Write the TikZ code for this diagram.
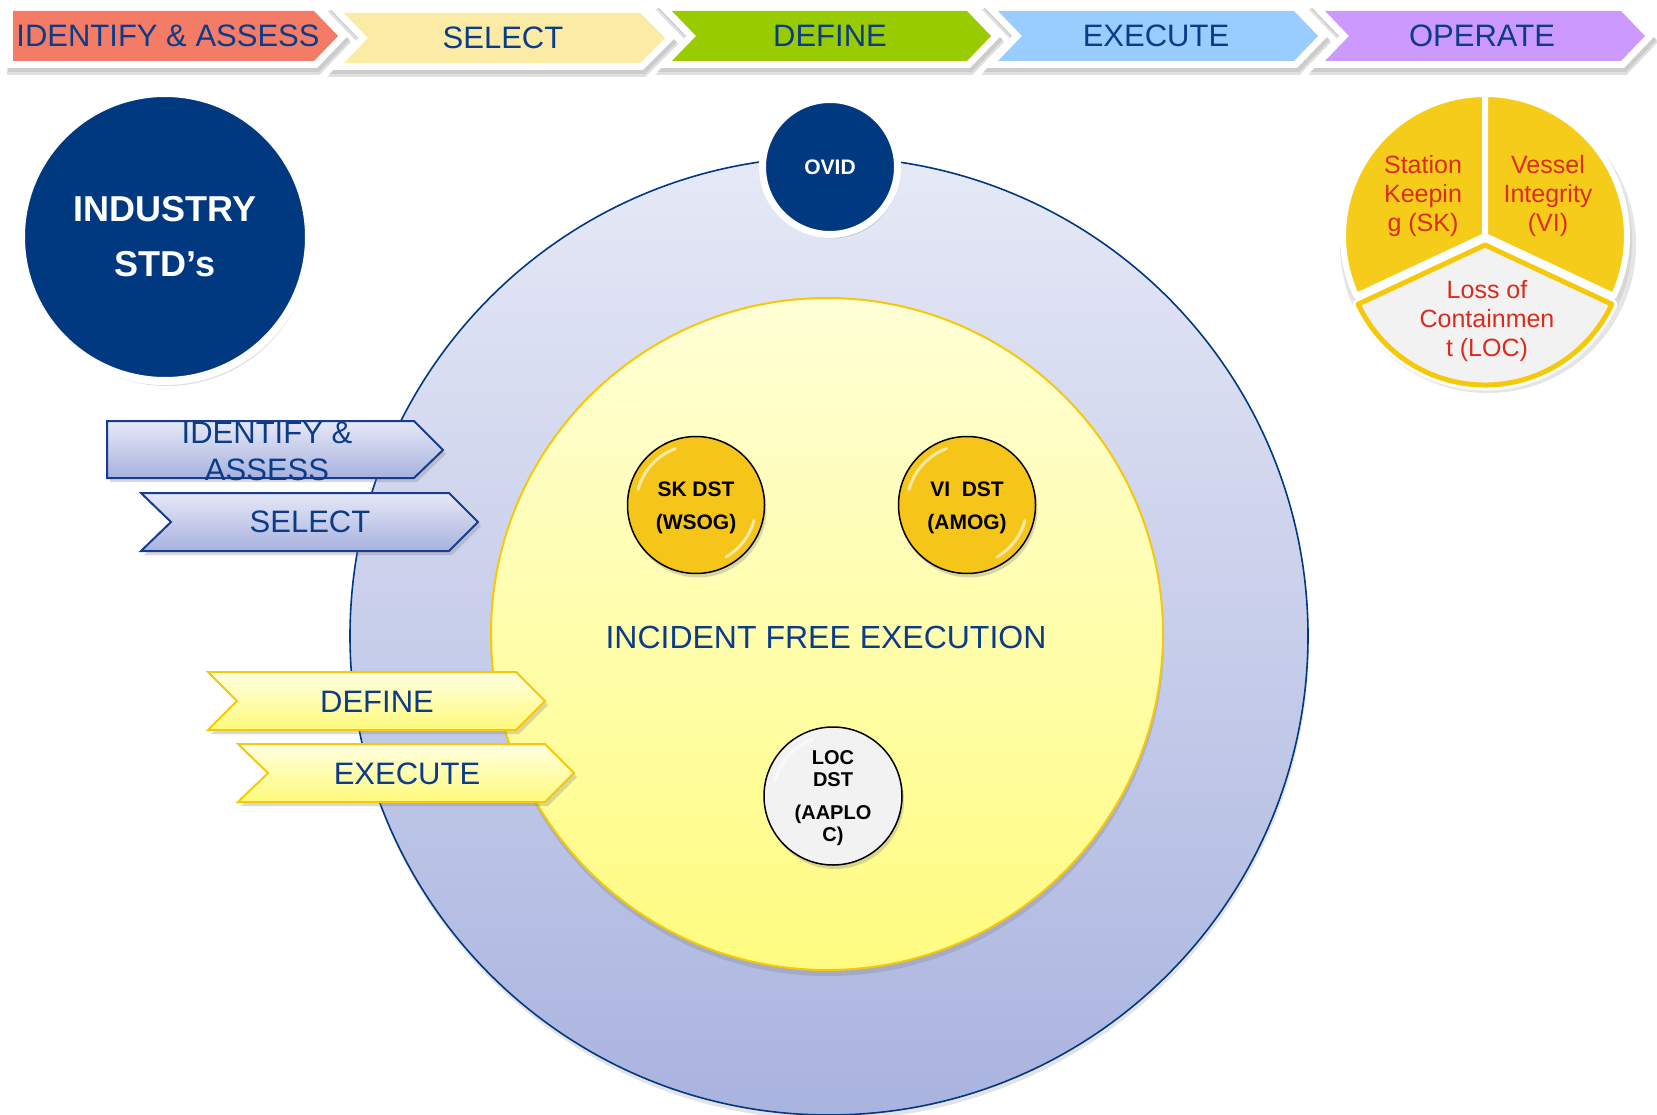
\documentclass[tikz,border=0pt]{standalone}
\usepackage{fontspec}
\setmainfont{Liberation Sans}
\usetikzlibrary{shadows}
\definecolor{navy}{RGB}{1,57,129}
\definecolor{navyline}{RGB}{24,60,140}
\definecolor{tblue}{RGB}{12,60,136}
\definecolor{salmon}{RGB}{244,123,102}
\definecolor{paleyel}{RGB}{252,235,165}
\definecolor{lgreen}{RGB}{153,204,0}
\definecolor{lblue}{RGB}{153,204,255}
\definecolor{lav}{RGB}{204,153,255}
\definecolor{outtop}{RGB}{230,233,246}
\definecolor{outbot}{RGB}{169,179,223}
\definecolor{yeltop}{RGB}{255,255,214}
\definecolor{yelbot}{RGB}{255,252,128}
\definecolor{goldline}{RGB}{246,200,10}
\definecolor{dstgold}{RGB}{245,198,25}
\definecolor{piegold}{RGB}{246,204,26}
\definecolor{pietext}{RGB}{218,44,29}
\definecolor{locgray}{RGB}{242,242,242}
\definecolor{lbtop}{RGB}{231,233,247}
\definecolor{lbbot}{RGB}{167,177,222}
\definecolor{lytop}{RGB}{255,255,224}
\definecolor{lybot}{RGB}{255,250,122}
\newcommand\bannerchev[2]{%
  \path[fill=black!12, draw=black!12, line width=16pt, line join=miter, shift={(2,6)}] #1;
  \path[fill=black!20, draw=black!20, line width=14pt, line join=miter, shift={(2,4)}] #1;
  \path[draw=white, line width=14pt, line join=miter] #1;
  \path[fill=#2] #1;
}
\begin{document}
\begin{tikzpicture}[x=1pt,y=-1pt,
  every node/.style={inner sep=0pt, outer sep=0pt},
  bantxt/.style={text=tblue, font=\fontsize{31}{37}\selectfont},
  bluetxt/.style={text=tblue, font=\fontsize{31}{37}\selectfont, align=center},
  leftblue/.style={draw=navyline, line width=2pt, line join=miter, top color=lbtop, bottom color=lbbot,
     drop shadow={opacity=.3, shadow xshift=3pt, shadow yshift=-4pt}},
  leftyel/.style={draw=goldline, line width=2pt, line join=miter, top color=lytop, bottom color=lybot,
     drop shadow={opacity=.3, shadow xshift=3pt, shadow yshift=-4pt}},
  dst/.style={circle, draw=black, line width=1.5pt, minimum size=137pt,
     drop shadow={opacity=.3, shadow xshift=2pt, shadow yshift=-4pt}},
  dsttxt/.style={align=center, font=\bfseries\fontsize{21}{33}\selectfont, text=black},
  piesec/.style={fill=piegold, draw=white, line width=6pt, line join=round},
  pietxt/.style={text=pietext, align=center, font=\fontsize{25}{29}\selectfont},
  hilite/.style={draw=white, draw opacity=.6, line width=3pt, line cap=round}
]
\useasboundingbox (0,0) rectangle (1657,1115);

% big circles
\node[circle, minimum size=958pt, draw=navy, line width=1.6pt, top color=outtop, bottom color=outbot,
  drop shadow={opacity=.22, shadow xshift=1pt, shadow yshift=-5pt}] (outer) at (829,636) {};
\node[circle, minimum size=672pt, draw=goldline, line width=2pt, top color=yeltop, bottom color=yelbot,
  drop shadow={opacity=.28, shadow xshift=1pt, shadow yshift=-6pt}] (inner) at (827,634) {};

\node[bluetxt, font=\fontsize{32}{38}\selectfont] (ife) at (826,637) {INCIDENT FREE EXECUTION};

% DST circles
\node[dst, fill=dstgold] (sk) at (696,505) {};
\node[dst, fill=dstgold] (vi) at (967,505) {};
\node[dst, fill=locgray, minimum size=138pt] (loc) at (833,796) {};
\draw[hilite] (sk.center) ++(-165:60) arc[start angle=-165, end angle=-110, radius=60];
\draw[hilite] (sk.center) ++(15:60) arc[start angle=15, end angle=60, radius=60];
\draw[hilite] (vi.center) ++(-165:60) arc[start angle=-165, end angle=-110, radius=60];
\draw[hilite] (vi.center) ++(15:60) arc[start angle=15, end angle=60, radius=60];
\draw[hilite] (loc.center) ++(-165:60) arc[start angle=-165, end angle=-110, radius=60];
\node[dsttxt] (skt) at (696,508) {SK DST\\(WSOG)};
\node[dsttxt] (vit) at (967,508) {VI~ DST\\(AMOG)};
\node[dsttxt, font=\bfseries\fontsize{20}{22.5}\selectfont] (loct) at (833,798) {LOC\\DST\\[10pt](AAPLO\\C)};

% left arrows
\path[leftblue] (107,421) -- (414,421) -- (443,450) -- (414,478) -- (107,478) -- cycle;
\node[bluetxt] (lia) at (267,451) {IDENTIFY \&\\ASSESS};
\path[leftblue] (141,493) -- (449,493) -- (478,522) -- (449,551) -- (141,551) -- (171,522) -- cycle;
\node[bluetxt] (lsel) at (310,522) {SELECT};
\path[leftyel] (208,672) -- (516,672) -- (545,701) -- (516,730) -- (208,730) -- (237,701) -- cycle;
\node[bluetxt] (ldef) at (377,702) {DEFINE};
\path[leftyel] (238,744) -- (545,744) -- (574,773) -- (545,802) -- (238,802) -- (268,773) -- cycle;
\node[bluetxt] (lexe) at (407,774) {EXECUTE};

% OVID and INDUSTRY
\node[circle, minimum size=135pt, fill=navy, draw=white, line width=7pt, text=white,
  font=\bfseries\fontsize{21}{25}\selectfont,
  drop shadow={opacity=.3, shadow xshift=2pt, shadow yshift=-4pt}] (ovid) at (830,167) {OVID};
\node[circle, minimum size=288pt, fill=navy, draw=white, line width=8pt, text=white, align=center,
  font=\bfseries\fontsize{36}{55}\selectfont,
  drop shadow={opacity=.25, shadow xshift=2pt, shadow yshift=-5pt}] (ind) at (165,237) {INDUSTRY\\STD’s};

% top banner
\bannerchev{(13,11) -- (314,11) -- (338,36) -- (314,61) -- (13,61) -- cycle}{salmon}
\bannerchev{(344,13) -- (640,13) -- (665,38) -- (640,63) -- (344,63) -- (368,38) -- cycle}{paleyel}
\bannerchev{(672,11) -- (967,11) -- (991,36) -- (967,61) -- (672,61) -- (696,36) -- cycle}{lgreen}
\bannerchev{(998,11) -- (1294,11) -- (1318,36) -- (1294,61) -- (998,61) -- (1022,36) -- cycle}{lblue}
\bannerchev{(1325,11) -- (1621,11) -- (1645,36) -- (1621,61) -- (1325,61) -- (1349,36) -- cycle}{lav}
\node[bantxt] (b1) at (168,36) {IDENTIFY \& ASSESS};
\node[bantxt] (b2) at (503,38) {SELECT};
\node[bantxt] (b3) at (830,36) {DEFINE};
\node[bantxt] (b4) at (1156,36) {EXECUTE};
\node[bantxt] (b5) at (1482,36) {OPERATE};

% pie
\path[fill=black!10] (1488,245) circle[radius=148];
\path[fill=black!16] (1487,242) circle[radius=145];
\path[piesec] (1485,236) -- ++(-90:142) arc[start angle=-90, end angle=-205, radius=142] -- cycle;
\path[piesec] (1485,236) -- ++(25:142) arc[start angle=25, end angle=-90, radius=142] -- cycle;
\path[fill=locgray, draw=goldline, line width=5pt, line join=round,
  preaction={draw=white, line width=11pt, line join=round}]
  (1485,245) -- ++(-205:140) arc[start angle=-205, end angle=-335, radius=140] -- cycle;
\node[pietxt] (psk) at (1423,196) {Station\\Keepin\\g (SK)};
\node[pietxt] (pvi) at (1548,196) {Vessel\\Integrity\\(VI)};
\node[pietxt] (ploc) at (1487,321) {Loss of\\Containmen\\t (LOC)};
\end{tikzpicture}
\end{document}
